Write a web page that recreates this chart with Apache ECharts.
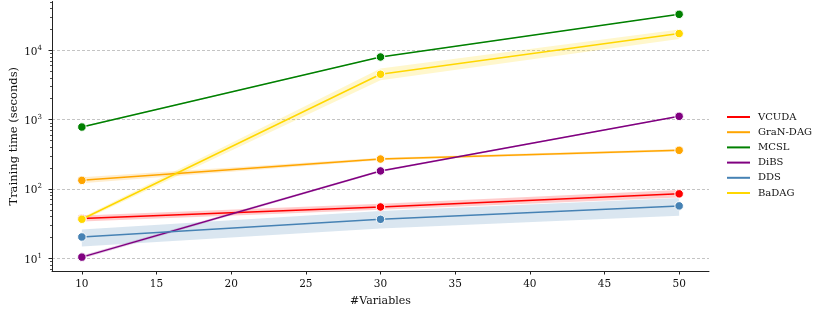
<!DOCTYPE html>
<html>
<head>
<meta charset="utf-8">
<script src="https://cdn.jsdelivr.net/npm/echarts@6/dist/echarts.min.js"></script>
<style>html,body{margin:0;padding:0;background:#fff}#c{width:830px;height:312px}</style>
</head>
<body>
<div id="c"></div>
<script>
const xValues = [10, 30, 50];
const xTicks = [10, 15, 20, 25, 30, 35, 40, 45, 50];
const yMajorTicks = [10, 100, 1000, 10000];
const yMinorTicks = [7, 8, 9, 20, 30, 40, 50, 60, 70, 80, 90, 200, 300, 400, 500, 600, 700, 800, 900,
  2000, 3000, 4000, 5000, 6000, 7000, 8000, 9000, 20000, 30000, 40000, 50000];

const names = ['VCUDA', 'GraN-DAG', 'MCSL', 'DiBS', 'DDS', 'BaDAG'];
const colors = ['#ff0000', '#ffa500', '#008000', '#800080', '#4682b4', '#ffd700'];

const vcuda = [37.5, 55, 85];
const vcudaLo = [34, 50, 75];
const vcudaHi = [41.5, 61, 97];

const grandag = [133, 270, 361];
const grandagLo = [121, 259, 346];
const grandagHi = [147, 282, 377];

const mcsl = [782, 8000, 33000];
const mcslLo = [765, 7850, 32500];
const mcslHi = [800, 8150, 33400];

const dibs = [10.4, 182, 1115];
const dibsLo = [9.85, 176, 1090];
const dibsHi = [11.0, 188, 1140];

const dds = [20.3, 36.5, 57];
const ddsLo = [14.8, 27, 41];
const ddsHi = [26, 48, 74];

const badag = [36.6, 4510, 17400];
const badagLo = [34.5, 3700, 14500];
const badagHi = [38.8, 5450, 19900];

const means = [vcuda, grandag, mcsl, dibs, dds, badag];
const lows = [vcudaLo, grandagLo, mcslLo, dibsLo, ddsLo, badagLo];
const highs = [vcudaHi, grandagHi, mcslHi, dibsHi, ddsHi, badagHi];

const FONT = 'DejaVu Serif';
const yMin = 6.56, yMax = 50500;

function hexA(hex, a) {
  const r = parseInt(hex.slice(1, 3), 16), g = parseInt(hex.slice(3, 5), 16), b = parseInt(hex.slice(5, 7), 16);
  return `rgba(${r},${g},${b},${a})`;
}

const series = [];
names.forEach((n, i) => {
  series.push({
    name: n + '_band', type: 'custom', silent: true, z: 1,
    data: xValues.map((x, k) => [x, lows[i][k], highs[i][k]]),
    encode: { x: 0, y: [1, 2] },
    renderItem: (params, api) => {
      if (params.dataIndex !== 0) return null;
      const upper = xValues.map((x, k) => api.coord([x, highs[i][k]]));
      const lower = xValues.map((x, k) => api.coord([x, lows[i][k]])).reverse();
      return {
        type: 'polygon',
        shape: { points: upper.concat(lower) },
        style: { fill: hexA(colors[i], 0.2) }
      };
    }
  });
});
names.forEach((n, i) => {
  series.push({
    name: n, type: 'line', z: 5 + i,
    data: xValues.map((x, k) => [x, means[i][k]]),
    symbol: 'circle', symbolSize: 8.5,
    lineStyle: { color: colors[i], width: 1.5 },
    itemStyle: { color: colors[i], borderColor: '#fff', borderWidth: 1 }
  });
});

const chart = echarts.init(document.getElementById('c'), null, { renderer: 'canvas' });
chart.setOption({
  animation: false,
  backgroundColor: '#fff',
  grid: { left: 52, right: 121, top: 1.5, bottom: 41, containLabel: false, outerBoundsMode: 'none' },
  legend: {
    data: names.map((n, i) => ({ name: n, icon: 'rect', itemStyle: { color: colors[i], borderWidth: 0, opacity: 1 } })),
    orient: 'vertical', left: 727, top: 111, padding: 0,
    itemWidth: 23, itemHeight: 2, itemGap: 3.2, symbolKeepAspect: false,
    itemStyle: { borderWidth: 0 },
    textStyle: { fontFamily: FONT, fontSize: 10, color: '#111', lineHeight: 12, padding: [0, 0, 0, 3] }
  },
  xAxis: {
    type: 'value', min: 8, max: 52,
    name: '#Variables', nameLocation: 'middle', nameGap: 25, nameMoveOverlap: false,
    nameTextStyle: { fontFamily: FONT, fontSize: 11, color: '#111' },
    axisLine: { show: true, lineStyle: { color: '#222', width: 1 } },
    axisTick: { show: true, length: 3.5, lineStyle: { color: '#222' }, customValues: xTicks },
    axisLabel: { fontFamily: FONT, fontSize: 10.5, color: '#111', margin: 8, customValues: xTicks },
    splitLine: { show: false }
  },
  yAxis: [{
    type: 'log', logBase: 10, min: yMin, max: yMax,
    name: 'Training time (seconds)', nameLocation: 'middle', nameGap: 32, nameMoveOverlap: false,
    nameTextStyle: { fontFamily: FONT, fontSize: 11.5, color: '#111' },
    axisLine: { show: true, lineStyle: { color: '#222', width: 1 } },
    axisTick: { show: true, length: 3.5, lineStyle: { color: '#222' }, customValues: yMajorTicks },
    axisLabel: {
      customValues: yMajorTicks, margin: 10,
      formatter: v => '{b|10}{s|' + Math.round(Math.log10(v)) + '}',
      rich: {
        b: { fontFamily: FONT, fontSize: 10.5, color: '#111', padding: [3, 0, 0, 0] },
        s: { fontFamily: FONT, fontSize: 7, color: '#111', padding: [0, 0, 5, 0] }
      }
    },
    splitLine: { show: true, showMinLine: true, showMaxLine: true, lineStyle: { color: '#b5b5b5', width: 0.8, type: [3, 2] } }
  }, {
    type: 'log', logBase: 10, min: yMin, max: yMax, position: 'left',
    axisLine: { show: false },
    axisTick: { show: true, length: 2, lineStyle: { color: '#222', width: 0.8 }, customValues: yMinorTicks },
    axisLabel: { show: false },
    splitLine: { show: false }
  }],
  series: series
});
</script>
</body>
</html>
